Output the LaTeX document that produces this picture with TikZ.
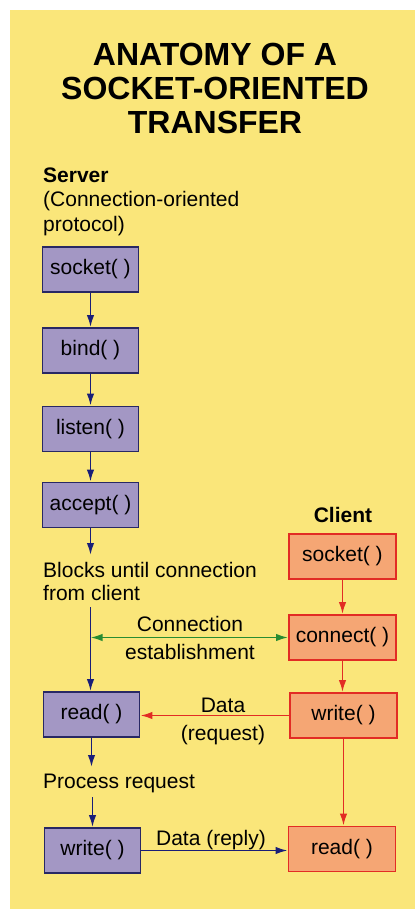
\documentclass[tikz,border=0pt]{standalone}
\usepackage{fontspec}
\setmainfont{Liberation Sans}
\usetikzlibrary{arrows.meta}
\definecolor{bgyellow}{RGB}{250,230,122}
\definecolor{srvfill}{RGB}{163,151,196}
\definecolor{srvline}{RGB}{40,40,100}
\definecolor{clifill}{RGB}{245,166,116}
\definecolor{cliline}{RGB}{226,44,36}
\definecolor{bluearrow}{RGB}{25,30,120}
\definecolor{greenarrow}{RGB}{40,140,50}
\tikzset{
  srvbox/.style={draw=srvline, fill=srvfill, line width=1.8pt, inner sep=0pt,
    minimum width=96pt, minimum height=45pt, font=\fontsize{21}{24}\selectfont},
  clibox/.style={draw=cliline, fill=clifill, line width=1.8pt, inner sep=0pt,
    minimum width=107pt, minimum height=45pt, font=\fontsize{21}{24}\selectfont},
  lbl/.style={inner sep=0pt, font=\fontsize{21}{24}\selectfont},
  blbl/.style={inner sep=0pt, font=\fontsize{21}{24}\selectfont\bfseries},
  tip/.style={-{Latex[length=12pt,width=7.5pt]}},
  barrow/.style={draw=bluearrow, line width=1.8pt, tip},
  rarrow/.style={draw=cliline, line width=1.8pt, tip},
  garrow/.style={draw=greenarrow, line width=1.8pt, {Latex[length=12pt,width=7.5pt]}-{Latex[length=12pt,width=7.5pt]}}
}
\begin{document}
\begin{tikzpicture}[x=1pt,y=-1pt]
\useasboundingbox (0,0) rectangle (415,909);
\fill[bgyellow] (10,10) rectangle (415,909);
% title
\node[inner sep=0pt, align=center, anchor=north,
  font=\fontsize{32}{34}\selectfont\bfseries] (title) at (215,43)
  {ANATOMY OF A\\SOCKET-ORIENTED\\TRANSFER};
% server labels
\node[blbl, anchor=base west] (srv1) at (43,183) {Server};
\node[lbl, anchor=base west] (srv2) at (43,207) {(Connection-oriented};
\node[lbl, anchor=base west] (srv3) at (43,231) {protocol)};
% server boxes
\node[srvbox] (ssocket) at (90.5,269.5) {socket( )};
\node[srvbox] (sbind) at (90.5,350.5) {bind( )};
\node[srvbox] (slisten) at (90.5,429) {listen( )};
\node[srvbox] (saccept) at (90.5,505) {accept( )};
\node[srvbox] (sread) at (91.5,714.5) {read( )};
\node[srvbox] (swrite) at (92.5,850.5) {write( )};
% server texts
\node[lbl, anchor=base west] (blk1) at (43,577) {Blocks until connection};
\node[lbl, anchor=base west] (blk2) at (43,600) {from client};
\node[lbl, anchor=base west] (proc) at (43,788) {Process request};
\coordinate (b1) at (90.5,555);
\coordinate (b2) at (90.5,607);
\coordinate (p1) at (91.5,767);
\coordinate (p2) at (92.5,797);
% client
\node[blbl, anchor=base] (clabel) at (343,522) {Client};
\node[clibox] (csocket) at (342.5,556.5) {socket( )};
\node[clibox] (cconnect) at (342.5,637.5) {connect( )};
\node[clibox] (cwrite) at (343.5,715.5) {write( )};
\node[clibox] (cread) at (342,849) {read( )};
% connector labels
\node[lbl, anchor=base] (conn1) at (190,631) {Connection};
\node[lbl, anchor=base] (conn2) at (190,659) {establishment};
\node[lbl, anchor=base] (data1) at (223,712) {Data};
\node[lbl, anchor=base] (data2) at (223,740) {(request)};
\node[lbl, anchor=base] (reply) at (211,845) {Data (reply)};
% server arrows
\draw[barrow] (ssocket.south) -- (sbind.north);
\draw[barrow] (sbind.south) -- (slisten.north);
\draw[barrow] (slisten.south) -- (saccept.north);
\draw[barrow] (saccept.south) -- (b1);
\draw[barrow] (b2) -- (b2 |- sread.north);
\draw[barrow] (sread.south) -- (p1);
\draw[barrow] (p2) -- (swrite.north);
% client arrows
\draw[rarrow] (csocket.south) -- (csocket.south |- cconnect.north);
\draw[rarrow] (cconnect.south) -- (cconnect.south |- cwrite.north);
\draw[rarrow] (cwrite.south) -- (cwrite.south |- cread.north);
% horizontal arrows
\draw[garrow] (b2 |- cconnect.west) -- (cconnect.west);
\draw[rarrow] (cwrite.west) -- (cwrite.west -| sread.east);
\draw[barrow] (swrite.east) -- (swrite.east -| cread.west);
\end{tikzpicture}
\end{document}
